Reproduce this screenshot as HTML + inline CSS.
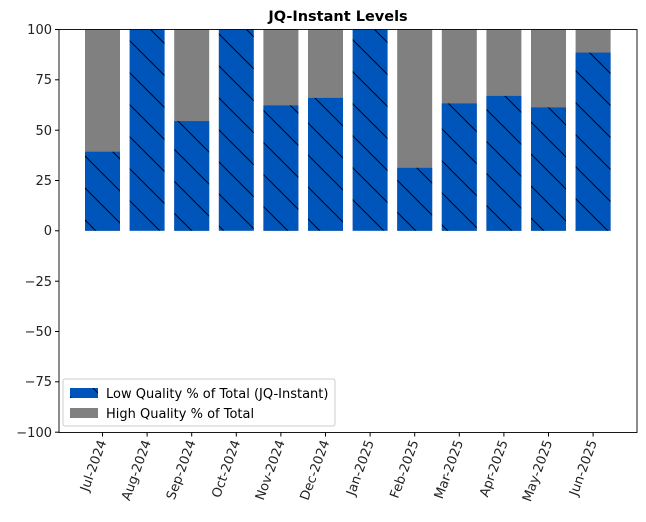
<!DOCTYPE html>
<html><head><style>body{margin:0;background:#fff}svg{display:block}text{font-family:"DejaVu Sans","Liberation Sans",sans-serif}</style></head>
<body>
<svg width="646" height="522" xmlns="http://www.w3.org/2000/svg">
<defs>
<pattern id="h" patternUnits="userSpaceOnUse" width="32" height="32" x="0" y="7">
<rect width="32" height="32" fill="#0055bb"/>
<path d="M-2,-2 L34,34 M-18,14 L2,34 M14,-18 L34,2" stroke="#000" stroke-width="1"/>
</pattern>
</defs>
<text x="338" y="21" font-size="14.5" font-weight="bold" text-anchor="middle">JQ-Instant Levels</text>
<g fill="#808080">
<rect x="85" y="29.5" width="35" height="201.3"/>
<rect x="174.2" y="29.5" width="35" height="201.3"/>
<rect x="263.4" y="29.5" width="35" height="201.3"/>
<rect x="308" y="29.5" width="35" height="201.3"/>
<rect x="397.2" y="29.5" width="35" height="201.3"/>
<rect x="441.8" y="29.5" width="35" height="201.3"/>
<rect x="486.4" y="29.5" width="35" height="201.3"/>
<rect x="531" y="29.5" width="35" height="201.3"/>
<rect x="575.6" y="29.5" width="35" height="201.3"/>
</g>
<g fill="url(#h)">
<rect x="85" y="151.7" width="35" height="79.1"/>
<rect x="129.6" y="29.5" width="35" height="201.3"/>
<rect x="174.2" y="121.1" width="35" height="109.7"/>
<rect x="218.8" y="29.5" width="35" height="201.3"/>
<rect x="263.4" y="105.4" width="35" height="125.4"/>
<rect x="308" y="97.9" width="35" height="132.9"/>
<rect x="352.6" y="29.5" width="35" height="201.3"/>
<rect x="397.2" y="167.8" width="35" height="63"/>
<rect x="441.8" y="103.4" width="35" height="127.4"/>
<rect x="486.4" y="95.9" width="35" height="134.9"/>
<rect x="531" y="107.4" width="35" height="123.4"/>
<rect x="575.6" y="52.6" width="35" height="178.2"/>
</g>
<rect x="59" y="29.5" width="578" height="403" fill="none" stroke="#000" stroke-width="0.9"/>
<g font-size="13" text-anchor="end" fill="#222">
<g stroke="#000"><line x1="55" x2="59" y1="29.5" y2="29.5"/><line x1="55" x2="59" y1="79.8" y2="79.8"/><line x1="55" x2="59" y1="130.2" y2="130.2"/><line x1="55" x2="59" y1="180.5" y2="180.5"/><line x1="55" x2="59" y1="230.8" y2="230.8"/><line x1="55" x2="59" y1="281.2" y2="281.2"/><line x1="55" x2="59" y1="331.5" y2="331.5"/><line x1="55" x2="59" y1="381.8" y2="381.8"/><line x1="55" x2="59" y1="432.2" y2="432.2"/></g>
<text x="52" y="34">100</text><text x="52" y="84">75</text><text x="52" y="135">50</text><text x="52" y="185">25</text><text x="52" y="235">0</text><text x="52" y="286">−25</text><text x="52" y="336">−50</text><text x="52" y="386">−75</text><text x="52" y="437">−100</text>
</g>
<g stroke="#000">
<line x1="102.5" x2="102.5" y1="432.5" y2="436.5"/><line x1="147.1" x2="147.1" y1="432.5" y2="436.5"/><line x1="191.7" x2="191.7" y1="432.5" y2="436.5"/><line x1="236.3" x2="236.3" y1="432.5" y2="436.5"/><line x1="280.9" x2="280.9" y1="432.5" y2="436.5"/><line x1="325.5" x2="325.5" y1="432.5" y2="436.5"/><line x1="370.1" x2="370.1" y1="432.5" y2="436.5"/><line x1="414.7" x2="414.7" y1="432.5" y2="436.5"/><line x1="459.3" x2="459.3" y1="432.5" y2="436.5"/><line x1="503.9" x2="503.9" y1="432.5" y2="436.5"/><line x1="548.5" x2="548.5" y1="432.5" y2="436.5"/><line x1="593.1" x2="593.1" y1="432.5" y2="436.5"/>
</g>
<g font-size="13" text-anchor="end" fill="#222">
<text transform="translate(106.5,442) rotate(-70)">Jul-2024</text>
<text transform="translate(151.1,442) rotate(-70)">Aug-2024</text>
<text transform="translate(195.7,442) rotate(-70)">Sep-2024</text>
<text transform="translate(240.3,442) rotate(-70)">Oct-2024</text>
<text transform="translate(284.9,442) rotate(-70)">Nov-2024</text>
<text transform="translate(329.5,442) rotate(-70)">Dec-2024</text>
<text transform="translate(374.1,442) rotate(-70)">Jan-2025</text>
<text transform="translate(418.7,442) rotate(-70)">Feb-2025</text>
<text transform="translate(463.3,442) rotate(-70)">Mar-2025</text>
<text transform="translate(507.9,442) rotate(-70)">Apr-2025</text>
<text transform="translate(552.5,442) rotate(-70)">May-2025</text>
<text transform="translate(597.1,442) rotate(-70)">Jun-2025</text>
</g>
<rect x="63" y="379" width="272" height="47" fill="#fff" stroke="#ccc" rx="2"/>
<rect x="70" y="388" width="28" height="10" fill="url(#h)"/>
<rect x="70" y="408" width="28" height="10" fill="#808080"/>
<text x="106" y="398" font-size="13">Low Quality % of Total (JQ-Instant)</text>
<text x="106" y="418" font-size="13">High Quality % of Total</text>
</svg>
</body></html>
